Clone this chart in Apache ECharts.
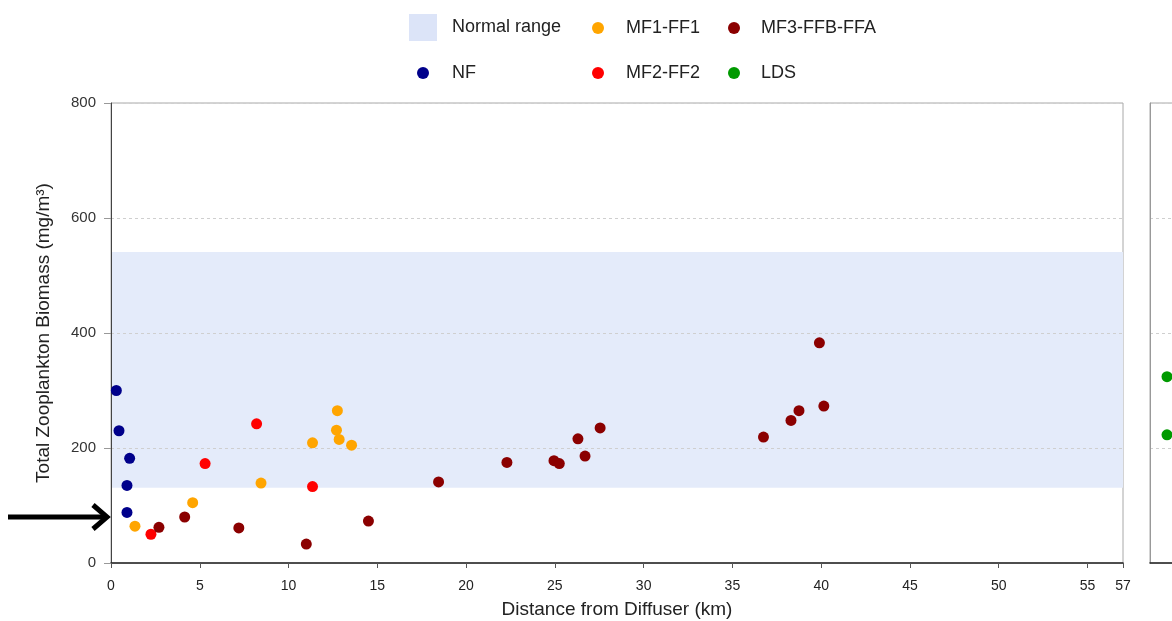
<!DOCTYPE html>
<html>
<head>
<meta charset="utf-8">
<script src="https://cdn.jsdelivr.net/npm/echarts@6/dist/echarts.min.js"></script>
<style>
  html, body { margin: 0; padding: 0; background: #fff; }
  #chart { width: 1172px; height: 621px; }
</style>
</head>
<body>
<div id="chart"></div>
<script>
// 各站点 [距离km, 生物量mg/m3]
var nfData = [[0.3, 300], [0.45, 230], [1.05, 182], [0.9, 135], [0.9, 88]];
var mf1Data = [[1.35, 64], [4.6, 105], [8.45, 139], [11.35, 209], [12.75, 265], [12.7, 231], [12.85, 215], [13.55, 205]];
var mf2Data = [[2.25, 50], [5.3, 173], [8.2, 242], [11.35, 133]];
var mf3Data = [[2.7, 62], [4.15, 80], [7.2, 61], [11.0, 33], [14.5, 73], [18.45, 141], [22.3, 175], [24.95, 178],
  [25.25, 173], [26.3, 216], [26.7, 186], [27.55, 235], [36.75, 219], [38.3, 248], [38.75, 265], [39.9, 383], [40.15, 273]];
var ldsData = [[1, 324], [1, 223]];
var normalRange = [131, 541];
var arrowValue = 80;
var xTicks = { min: 0, max: 57, interval: 5 };
var yTicks = { min: 0, max: 800, interval: 200 };

var names = ['Normal range', 'NF', 'MF1-FF1', 'MF2-FF2', 'MF3-FFB-FFA', 'LDS'];
var colorList = ['#d3ddf6', '#00008b', '#ffa500', '#ff0000', '#8b0000', '#009a00'];

var font = "'Liberation Sans', Arial, sans-serif";

// 图例位置（两行三列）
var legendPos = [
  { left: 409, top: 14, w: 28, h: 27, pad: [0, 0, 0, 10], icon: 'rect' },
  { left: 417, top: 64, w: 12, h: 12, pad: [3, 0, 0, 18], icon: 'circle' },
  { left: 592, top: 19, w: 12, h: 12, pad: [3, 0, 0, 17], icon: 'circle' },
  { left: 592, top: 64, w: 12, h: 12, pad: [3, 0, 0, 17], icon: 'circle' },
  { left: 728, top: 19, w: 12, h: 12, pad: [3, 0, 0, 16], icon: 'circle' },
  { left: 728, top: 64, w: 12, h: 12, pad: [3, 0, 0, 16], icon: 'circle' }
];
var legends = legendPos.map(function (p, i) {
  return {
    data: [{ name: names[i], icon: p.icon }],
    left: p.left, top: p.top, padding: 0,
    itemWidth: p.w, itemHeight: p.h,
    selectedMode: false,
    textStyle: { fontSize: 18, color: '#222', fontFamily: font, padding: p.pad }
  };
});

function pointSeries(name, color, data, idx) {
  return {
    name: name, type: 'scatter', data: data,
    xAxisIndex: idx, yAxisIndex: idx,
    symbol: 'circle', symbolSize: 11,
    itemStyle: { color: color, opacity: 1 },
    z: 5
  };
}

var chart = echarts.init(document.getElementById('chart'), null, { renderer: 'canvas' });
var option = {
  backgroundColor: '#fff',
  animation: false,
  legend: legends,
  grid: [
    { left: 111, top: 103, right: 49, bottom: 58, outerBoundsMode: 'none', show: true, borderColor: '#a8a8a8', borderWidth: 1 },
    { left: 1150, top: 103, width: 170, bottom: 58, outerBoundsMode: 'none', show: true, borderColor: '#a8a8a8', borderWidth: 1 }
  ],
  xAxis: [{
    type: 'value', gridIndex: 0, z: 4,
    min: xTicks.min, max: xTicks.max, interval: xTicks.interval,
    name: 'Distance from Diffuser (km)', nameLocation: 'middle', nameGap: 37,
    nameTextStyle: { fontSize: 19, color: '#222', fontFamily: font },
    axisLine: { show: true, onZero: false, lineStyle: { color: '#222', width: 1.5 } },
    axisTick: { show: true, length: 5, lineStyle: { color: '#555' } },
    axisLabel: { fontSize: 14, color: '#222', fontFamily: font, margin: 16 },
    splitLine: { show: false }
  }, {
    type: 'value', gridIndex: 1, min: 0, max: 10, z: 4,
    axisLine: { show: true, onZero: false, lineStyle: { color: '#222', width: 1.5 } },
    axisTick: { show: false }, axisLabel: { show: false }, splitLine: { show: false }
  }],
  yAxis: [{
    type: 'value', gridIndex: 0, z: 4,
    min: yTicks.min, max: yTicks.max, interval: yTicks.interval,
    name: 'Total Zooplankton Biomass (mg/m³)', nameLocation: 'middle', nameGap: 58,
    nameTextStyle: { fontSize: 19, color: '#222', fontFamily: font },
    axisLine: { show: true, onZero: false, lineStyle: { color: '#444', width: 1 } },
    axisTick: { show: true, length: 7, lineStyle: { color: '#999' } },
    axisLabel: { fontSize: 15, color: '#333', fontFamily: font, margin: 15 },
    splitLine: { show: true, lineStyle: { color: '#cfcfcf', type: [3, 3] } }
  }, {
    type: 'value', gridIndex: 1, z: 4,
    min: yTicks.min, max: yTicks.max, interval: yTicks.interval,
    axisLine: { show: true, onZero: false, lineStyle: { color: '#999', width: 1 } },
    axisTick: { show: false }, axisLabel: { show: false },
    splitLine: { show: true, lineStyle: { color: '#cfcfcf', type: [3, 3] } }
  }],
  series: [
    {
      name: names[0], type: 'scatter', data: [], z: 1,
      itemStyle: { color: colorList[0] },
      markArea: {
        silent: true,
        itemStyle: { color: '#e4ebfa' },
        data: [[{ yAxis: normalRange[0] }, { yAxis: normalRange[1] }]]
      }
    },
    pointSeries(names[1], colorList[1], nfData, 0),
    pointSeries(names[2], colorList[2], mf1Data, 0),
    pointSeries(names[3], colorList[3], mf2Data, 0),
    pointSeries(names[4], colorList[4], mf3Data, 0),
    pointSeries(names[5], colorList[5], ldsData, 1)
  ]
};
chart.setOption(option);

// 左侧箭头标注
var ay = chart.convertToPixel({ gridIndex: 0 }, [0, arrowValue])[1];
chart.setOption({
  graphic: [{
    type: 'group',
    children: [
      { type: 'line', shape: { x1: 8, y1: ay, x2: 104, y2: ay }, style: { stroke: '#000', lineWidth: 5 } },
      { type: 'polyline', shape: { points: [[93, ay - 12], [107, ay], [93, ay + 12]] }, style: { stroke: '#000', lineWidth: 5, fill: null, lineJoin: 'miter' } }
    ]
  }]
});
</script>
</body>
</html>
